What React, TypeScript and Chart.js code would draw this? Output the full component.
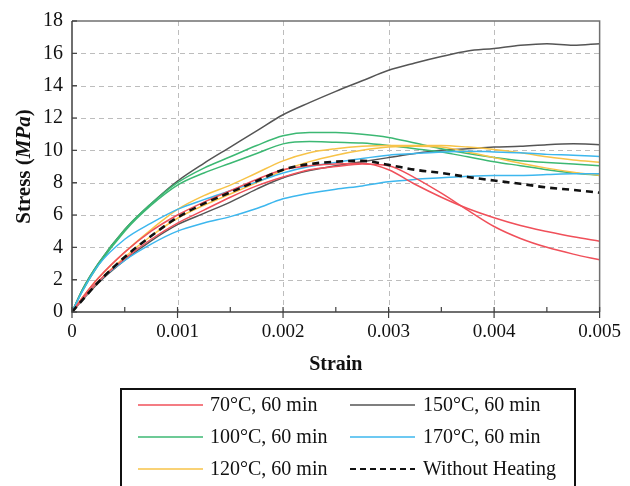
import React, { useEffect, useRef } from 'react';
import { Chart, registerables } from 'chart.js';

Chart.register(...registerables);

// Strain grid shared by all curves
const strain = [0, 0.0001, 0.00025, 0.0005, 0.00075, 0.001, 0.00125, 0.0015, 0.00175, 0.002, 0.00225, 0.0025, 0.00275, 0.003, 0.00325, 0.0035, 0.00375, 0.004, 0.00425, 0.0045, 0.00475, 0.005];

// Stress (MPa) per specimen
const withoutHeating = [0, 0.75, 1.85, 3.4, 4.7, 5.85, 6.7, 7.4, 8.1, 8.8, 9.15, 9.3, 9.35, 9.1, 8.8, 8.6, 8.35, 8.13, 7.93, 7.7, 7.55, 7.38];
const c70A = [0, 0.9, 2.1, 3.7, 5.0, 6.0, 6.8, 7.5, 8.2, 8.8, 9.05, 9.15, 9.2, 8.8, 7.9, 7.1, 6.4, 5.83, 5.35, 4.98, 4.65, 4.38];
const c70B = [0, 0.8, 1.9, 3.3, 4.5, 5.5, 6.3, 7.1, 7.8, 8.35, 8.8, 9.0, 9.15, 9.05, 8.3, 7.35, 6.3, 5.29, 4.55, 4.0, 3.58, 3.23];
const c100A = [0, 1.4, 3.0, 5.1, 6.7, 8.0, 8.9, 9.6, 10.3, 10.9, 11.1, 11.1, 11.0, 10.8, 10.45, 10.1, 9.8, 9.55, 9.35, 9.25, 9.15, 9.05];
const c100B = [0, 1.3, 2.9, 5.0, 6.6, 7.85, 8.6, 9.2, 9.8, 10.4, 10.55, 10.5, 10.45, 10.3, 10.1, 9.9, 9.6, 9.3, 9.05, 8.8, 8.6, 8.45];
const c120A = [0, 0.9, 2.1, 3.7, 5.1, 6.35, 7.2, 7.85, 8.6, 9.35, 9.85, 10.1, 10.25, 10.3, 10.3, 10.3, 10.2, 10.05, 9.85, 9.6, 9.4, 9.27];
const c120B = [0, 0.8, 1.9, 3.4, 4.7, 5.8, 6.6, 7.3, 8.0, 8.75, 9.3, 9.7, 10.0, 10.2, 10.25, 10.2, 9.9, 9.55, 9.2, 8.9, 8.65, 8.45];
const c150A = [0, 1.4, 3.0, 5.1, 6.7, 8.1, 9.2, 10.2, 11.2, 12.2, 12.95, 13.65, 14.3, 14.95, 15.4, 15.8, 16.15, 16.3, 16.5, 16.6, 16.5, 16.6];
const c150B = [0, 0.75, 1.8, 3.2, 4.4, 5.4, 6.1, 6.8, 7.6, 8.3, 8.75, 9.05, 9.3, 9.55, 9.8, 10.0, 10.1, 10.2, 10.25, 10.35, 10.4, 10.35];
const c170A = [0, 1.3, 2.9, 4.5, 5.5, 6.35, 6.95, 7.5, 8.05, 8.6, 9.0, 9.25, 9.5, 9.7, 9.8, 9.9, 9.95, 9.9, 9.85, 9.75, 9.7, 9.62];
const c170B = [0, 0.8, 1.9, 3.2, 4.2, 5.0, 5.5, 5.9, 6.4, 7.0, 7.35, 7.6, 7.8, 8.05, 8.2, 8.3, 8.4, 8.45, 8.45, 8.5, 8.55, 8.55];

const legendLabels = ['70°C, 60 min', '100°C, 60 min', '120°C, 60 min', '150°C, 60 min', '170°C, 60 min', 'Without Heating'];
const xTickValues = [0, 0.001, 0.002, 0.003, 0.004, 0.005];
const yTickValues = [0, 2, 4, 6, 8, 10, 12, 14, 16, 18];

const RED = '#f0505a';
const GREEN = '#3cb873';
const ORANGE = '#f7c348';
const GRAY = '#555555';
const CYAN = '#3db7ee';
const BLACK = '#111111';

const SERIF = '"Liberation Serif", "Times New Roman", serif';

export default function App() {
  const ref = useRef<HTMLCanvasElement>(null);

  useEffect(() => {
    const canvas = ref.current;
    if (!canvas) return;

    const pts = (ys: number[]) => strain.map((x, i) => ({ x, y: ys[i] }));
    const mk = (label: string, ys: number[], color: string, extra: any = {}) => ({
      label,
      data: pts(ys),
      borderColor: color,
      backgroundColor: color,
      borderWidth: 1.5,
      pointRadius: 0,
      fill: false,
      cubicInterpolationMode: 'monotone',
      ...extra,
    });

    const legendItems = [
      { label: legendLabels[0], color: RED, dash: [] as number[] },
      { label: legendLabels[1], color: GREEN, dash: [] as number[] },
      { label: legendLabels[2], color: ORANGE, dash: [] as number[] },
      { label: legendLabels[3], color: GRAY, dash: [] as number[] },
      { label: legendLabels[4], color: CYAN, dash: [] as number[] },
      { label: legendLabels[5], color: BLACK, dash: [6, 4] },
    ];

    const decor = {
      id: 'decor',
      beforeDatasetsDraw(chart: any) {
        const ctx = chart.ctx;
        const { left, right, top, bottom } = chart.chartArea;
        const xs = chart.scales.x;
        const ys = chart.scales.y;
        ctx.save();
        ctx.strokeStyle = '#bdbdbd';
        ctx.lineWidth = 1;
        ctx.setLineDash([5, 4]);
        yTickValues.forEach((v) => {
          if (v === 0 || v === 18) return;
          const y = Math.round(ys.getPixelForValue(v)) + 0.5;
          ctx.beginPath();
          ctx.moveTo(left, y);
          ctx.lineTo(right, y);
          ctx.stroke();
        });
        xTickValues.forEach((v) => {
          if (v === 0 || v === 0.005) return;
          const x = Math.round(xs.getPixelForValue(v)) + 0.5;
          ctx.beginPath();
          ctx.moveTo(x, top);
          ctx.lineTo(x, bottom);
          ctx.stroke();
        });
        ctx.restore();
      },
      afterDatasetsDraw(chart: any) {
        const ctx = chart.ctx;
        const { left, right, top, bottom } = chart.chartArea;
        const xs = chart.scales.x;
        const ys = chart.scales.y;
        ctx.save();
        ctx.setLineDash([]);
        // top & right frame
        ctx.strokeStyle = '#707070';
        ctx.lineWidth = 1.5;
        ctx.beginPath();
        ctx.moveTo(left, top);
        ctx.lineTo(right, top);
        ctx.lineTo(right, bottom);
        ctx.stroke();
        // axes
        ctx.strokeStyle = '#404040';
        ctx.beginPath();
        ctx.moveTo(left, top);
        ctx.lineTo(left, bottom);
        ctx.lineTo(right, bottom);
        ctx.stroke();
        // x ticks
        ctx.lineWidth = 1.2;
        xTickValues.forEach((v) => {
          const x = xs.getPixelForValue(v);
          ctx.beginPath();
          ctx.moveTo(x, bottom - 5);
          ctx.lineTo(x, bottom + 6);
          ctx.stroke();
          if (v < 0.005) {
            const xm = xs.getPixelForValue(v + 0.0005);
            ctx.beginPath();
            ctx.moveTo(xm, bottom - 5);
            ctx.lineTo(xm, bottom);
            ctx.stroke();
          }
        });
        // y ticks
        yTickValues.forEach((v) => {
          const y = ys.getPixelForValue(v);
          ctx.beginPath();
          ctx.moveTo(left, y);
          ctx.lineTo(left + 5, y);
          ctx.stroke();
        });
        ctx.restore();
      },
      afterDraw(chart: any) {
        const ctx = chart.ctx;
        const { left, right, top, bottom } = chart.chartArea;
        ctx.save();
        ctx.fillStyle = '#111';
        // x title
        ctx.font = `bold 20px ${SERIF}`;
        ctx.textAlign = 'center';
        ctx.textBaseline = 'middle';
        ctx.fillText('Strain', (left + right) / 2, 365);
        // y title with italic MPa
        const parts = [
          { t: 'Stress (', f: `bold 21px ${SERIF}` },
          { t: 'MPa', f: `italic bold 21px ${SERIF}` },
          { t: ')', f: `bold 21px ${SERIF}` },
        ];
        let total = 0;
        const widths = parts.map((p) => {
          ctx.font = p.f;
          const w = ctx.measureText(p.t).width;
          total += w;
          return w;
        });
        ctx.translate(25, (top + bottom) / 2);
        ctx.rotate(-Math.PI / 2);
        ctx.textAlign = 'left';
        let cx = -total / 2;
        parts.forEach((p, i) => {
          ctx.font = p.f;
          ctx.fillText(p.t, cx, 0);
          cx += widths[i];
        });
        ctx.restore();

        // legend
        ctx.save();
        ctx.strokeStyle = '#111';
        ctx.lineWidth = 2;
        ctx.strokeRect(121, 389, 454, 120);
        ctx.font = `20px ${SERIF}`;
        ctx.textBaseline = 'middle';
        ctx.textAlign = 'left';
        const cols = [
          { lx1: 138, lx2: 203, tx: 210 },
          { lx1: 350, lx2: 415, tx: 423 },
        ];
        const rows = [405, 437, 469];
        legendItems.forEach((it, i) => {
          const c = cols[Math.floor(i / 3)];
          const y = rows[i % 3];
          ctx.strokeStyle = it.color;
          ctx.lineWidth = it.dash.length ? 2.2 : 1.5;
          ctx.setLineDash(it.dash);
          ctx.beginPath();
          ctx.moveTo(c.lx1, y);
          ctx.lineTo(c.lx2, y);
          ctx.stroke();
          ctx.setLineDash([]);
          ctx.fillStyle = '#111';
          ctx.fillText(it.label, c.tx, y + 1);
        });
        ctx.restore();
      },
    };

    const chart = new Chart(canvas, {
      type: 'line',
      data: {
        datasets: [
          mk('Without Heating', withoutHeating, BLACK, { borderWidth: 2.6, borderDash: [7, 5] }),
          mk('70A', c70A, RED),
          mk('70B', c70B, RED),
          mk('170A', c170A, CYAN),
          mk('170B', c170B, CYAN),
          mk('120A', c120A, ORANGE),
          mk('120B', c120B, ORANGE),
          mk('100A', c100A, GREEN),
          mk('100B', c100B, GREEN),
          mk('150A', c150A, GRAY),
          mk('150B', c150B, GRAY),
        ] as any,
      },
      options: {
        responsive: false,
        animation: false,
        layout: { padding: { left: 0, top: 20, right: 24, bottom: 134 } },
        plugins: {
          legend: { display: false },
          tooltip: { enabled: false },
        },
        scales: {
          x: {
            type: 'linear',
            min: 0,
            max: 0.005,
            grid: { display: false, drawTicks: false },
            border: { display: false },
            afterFit: (s: any) => { s.height = 40; },
            afterBuildTicks: (s: any) => { s.ticks = xTickValues.map((v) => ({ value: v })); },
            ticks: {
              padding: 9,
              color: '#111',
              font: { family: SERIF, size: 19 },
              maxRotation: 0,
              autoSkip: false,
              callback: (v: any) => (Number(v) === 0 ? '0' : Number(v).toFixed(3)),
            },
          },
          y: {
            type: 'linear',
            min: 0,
            max: 18,
            grid: { display: false, drawTicks: false },
            border: { display: false },
            afterFit: (s: any) => { s.width = 72; },
            afterBuildTicks: (s: any) => { s.ticks = yTickValues.map((v) => ({ value: v })); },
            ticks: {
              padding: 9,
              color: '#111',
              font: { family: SERIF, size: 20 },
              autoSkip: false,
              callback: (v: any) => String(v),
            },
          },
        },
      } as any,
      plugins: [decor],
    });

    return () => chart.destroy();
  }, []);

  return (
    <div style={{ position: 'absolute', left: 0, top: 0, width: 630, height: 486, background: '#fff' }}>
      <canvas ref={ref} width={630} height={486} style={{ display: 'block', width: 630, height: 486 }} />
    </div>
  );
}
